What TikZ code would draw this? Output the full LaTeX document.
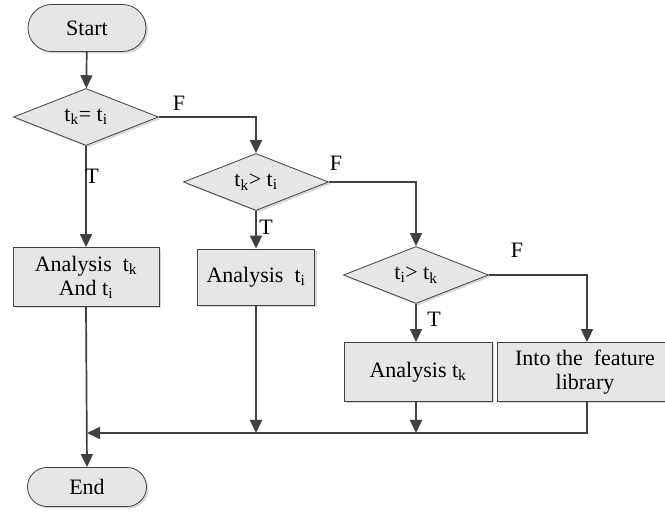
\documentclass[tikz,border=0pt]{standalone}
\usepackage{fontspec}
\setmainfont{Liberation Serif}
\usetikzlibrary{shapes.geometric,shapes.misc,arrows.meta,shadows}
\definecolor{ln}{HTML}{404040}
\definecolor{fl}{HTML}{E6E6E6}
\tikzset{
  base/.style={draw=ln, line width=0.8pt, fill=fl, font=\fontsize{22}{24}\selectfont, align=center,
     drop shadow={shadow xshift=2pt, shadow yshift=-2pt, fill=gray!60, opacity=0.5}},
  term/.style={base, rounded rectangle, inner sep=0pt},
  dec/.style={base, diamond, aspect=2.5, inner sep=0pt, minimum width=145pt, minimum height=57pt},
  proc/.style={base, rectangle, inner sep=0pt},
  conn/.style={draw=ln, line width=1.7pt, -{Triangle[length=13pt,width=12pt]}},
  plain/.style={draw=ln, line width=1.7pt},
  lab/.style={font=\fontsize{22}{24}\selectfont, inner sep=0pt}
}
\newcommand{\tk}{t\textsubscript{k}}
\newcommand{\ti}{t\textsubscript{i}}
\begin{document}
\begin{tikzpicture}[x=1pt,y=-1pt]
\useasboundingbox (0,0) rectangle (665,518);
\node[term, minimum width=118pt, minimum height=47pt] (start) at (87,28) {Start};
\node[dec] (d1) at (86,117) {\tk= \ti};
\node[dec] (d2) at (256,182) {\tk> \ti};
\node[dec] (d3) at (416,275) {\ti> \tk};
\node[proc, minimum width=146pt, minimum height=59pt] (b1) at (86,277) {Analysis~ \tk\\And \ti};
\node[proc, minimum width=117pt, minimum height=56pt] (b2) at (256,277) {Analysis~ \ti};
\node[proc, minimum width=148pt, minimum height=59pt] (b3) at (418,372) {Analysis \tk};
\node[proc, minimum width=176pt, minimum height=59pt] (b4) at (585,372) {Into the~ feature\\library};
\node[term, minimum width=119pt, minimum height=39pt] (end) at (87,487) {End};
\coordinate (j) at (87,433);
\coordinate (r4) at (587,275);
% connectors
\draw[conn] (start) -- (d1);
\draw[conn] (d1.east) -| (d2.north);
\draw[conn] (d1.south) -- (b1.north);
\draw[conn] (d2.east) -| (d3.north);
\draw[conn] (d2.south) -- (b2.north);
\draw[conn] (d3.south) -- (b3.north -| d3.south);
\draw[conn] (d3.east) -- (r4) -- (r4 |- b4.north);
\draw[conn] (b1.south) -- (end.north);
\draw[conn] (b2.south) -- (b2.south |- j);
\draw[conn] (b3.south -| d3.south) -- (d3.south |- j);
\draw[plain] (r4 |- b4.south) -- (r4 |- j) -- (d3.south |- j);
\draw[conn] (d3.south |- j) -- (j);
% labels
\node[lab] (f1) at (179,103) {F};
\node[lab] (t1) at (92,176) {T};
\node[lab] (f2) at (336,163) {F};
\node[lab] (t2) at (266,227) {T};
\node[lab] (f3) at (517,250) {F};
\node[lab] (t3) at (434,319) {T};
\end{tikzpicture}
\end{document}
